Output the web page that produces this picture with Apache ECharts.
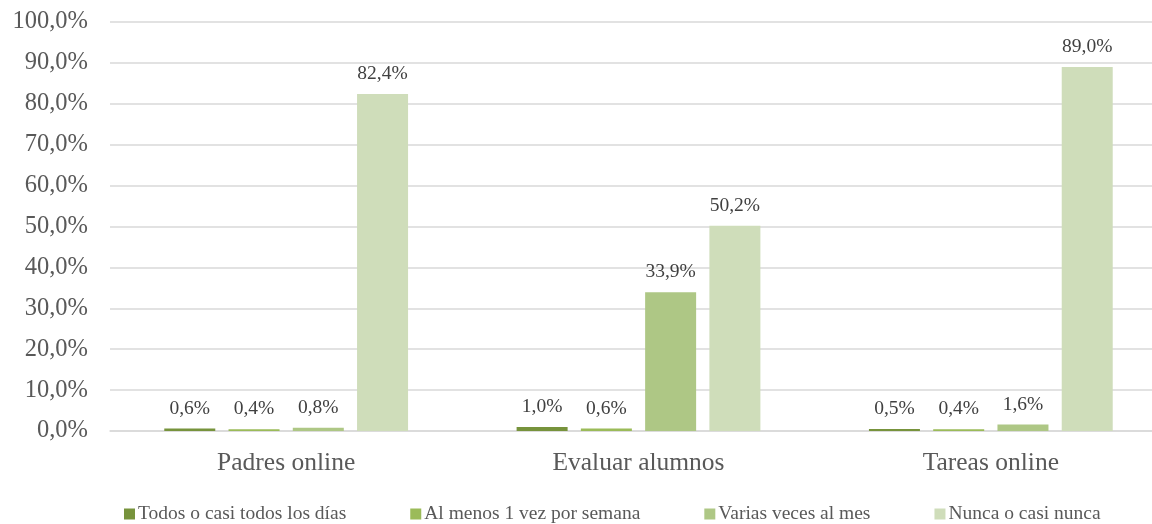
<!DOCTYPE html>
<html>
<head>
<meta charset="utf-8">
<script src="https://cdn.jsdelivr.net/npm/echarts@6/dist/echarts.min.js"></script>
<style>
  html, body { margin: 0; padding: 0; background: #ffffff; overflow: hidden; }
  /* the chart is wider than the window: the right end of the plot is cut off */
  #chart { width: 1200px; height: 524px; }
</style>
</head>
<body>
<div id="chart"></div>
<script>
// Uso de herramientas online por categoría y frecuencia (%)
const categories = ['Padres online', 'Evaluar alumnos', 'Tareas online'];
const seriesNames = [
  'Todos o casi todos los días',
  'Al menos 1 vez por semana',
  'Varias veces al mes',
  'Nunca o casi nunca'
];
const todosDias = [0.6, 1.0, 0.5];
const semanal   = [0.4, 0.6, 0.4];
const mensual   = [0.8, 33.9, 1.6];
const nunca     = [82.4, 50.2, 89.0];
const yTicks = [0, 10, 20, 30, 40, 50, 60, 70, 80, 90, 100];

const colors = ['#77933C', '#9BBB59', '#AEC785', '#CFDDBA'];
const values = [todosDias, semanal, mensual, nunca];
const fontFamily = '"Liberation Serif", "DejaVu Serif", serif';
const fmt = v => v.toFixed(1).replace('.', ',') + '%';

const chart = echarts.init(document.getElementById('chart'), null, { renderer: 'canvas' });

chart.setOption({
  animation: false,
  color: colors,
  textStyle: { fontFamily: fontFamily },
  grid: { left: 110, right: 33, top: 22, bottom: 93, containLabel: false },
  legend: {
    top: 503,
    left: 124,
    padding: 0,
    itemWidth: 11,
    itemHeight: 11,
    itemGap: 64,
    icon: 'rect',
    textStyle: { fontFamily: fontFamily, fontSize: 19.5, lineHeight: 22, color: '#595959', padding: [0, 0, 0, -2] },
    data: seriesNames
  },
  xAxis: {
    type: 'category',
    data: categories,
    axisLine: { lineStyle: { color: '#d9d9d9', width: 1.5 } },
    axisTick: { show: false },
    axisLabel: { fontSize: 25.5, color: '#595959', margin: 19 }
  },
  yAxis: {
    type: 'value',
    min: yTicks[0],
    max: yTicks[yTicks.length - 1],
    interval: yTicks[1] - yTicks[0],
    axisLine: { show: false },
    axisTick: { show: false },
    splitLine: { lineStyle: { color: '#d9d9d9', width: 1.5 } },
    axisLabel: { fontSize: 24.5, color: '#595959', margin: 22, formatter: v => fmt(v) }
  },
  series: seriesNames.map((name, i) => ({
    name: name,
    type: 'bar',
    data: values[i],
    barWidth: 51,
    barGap: '26%',
    itemStyle: { color: colors[i] },
    label: {
      show: true,
      position: 'top',
      distance: 10,
      fontSize: 19.5,
      color: '#404040',
      formatter: p => fmt(p.value)
    }
  }))
});
</script>
</body>
</html>
